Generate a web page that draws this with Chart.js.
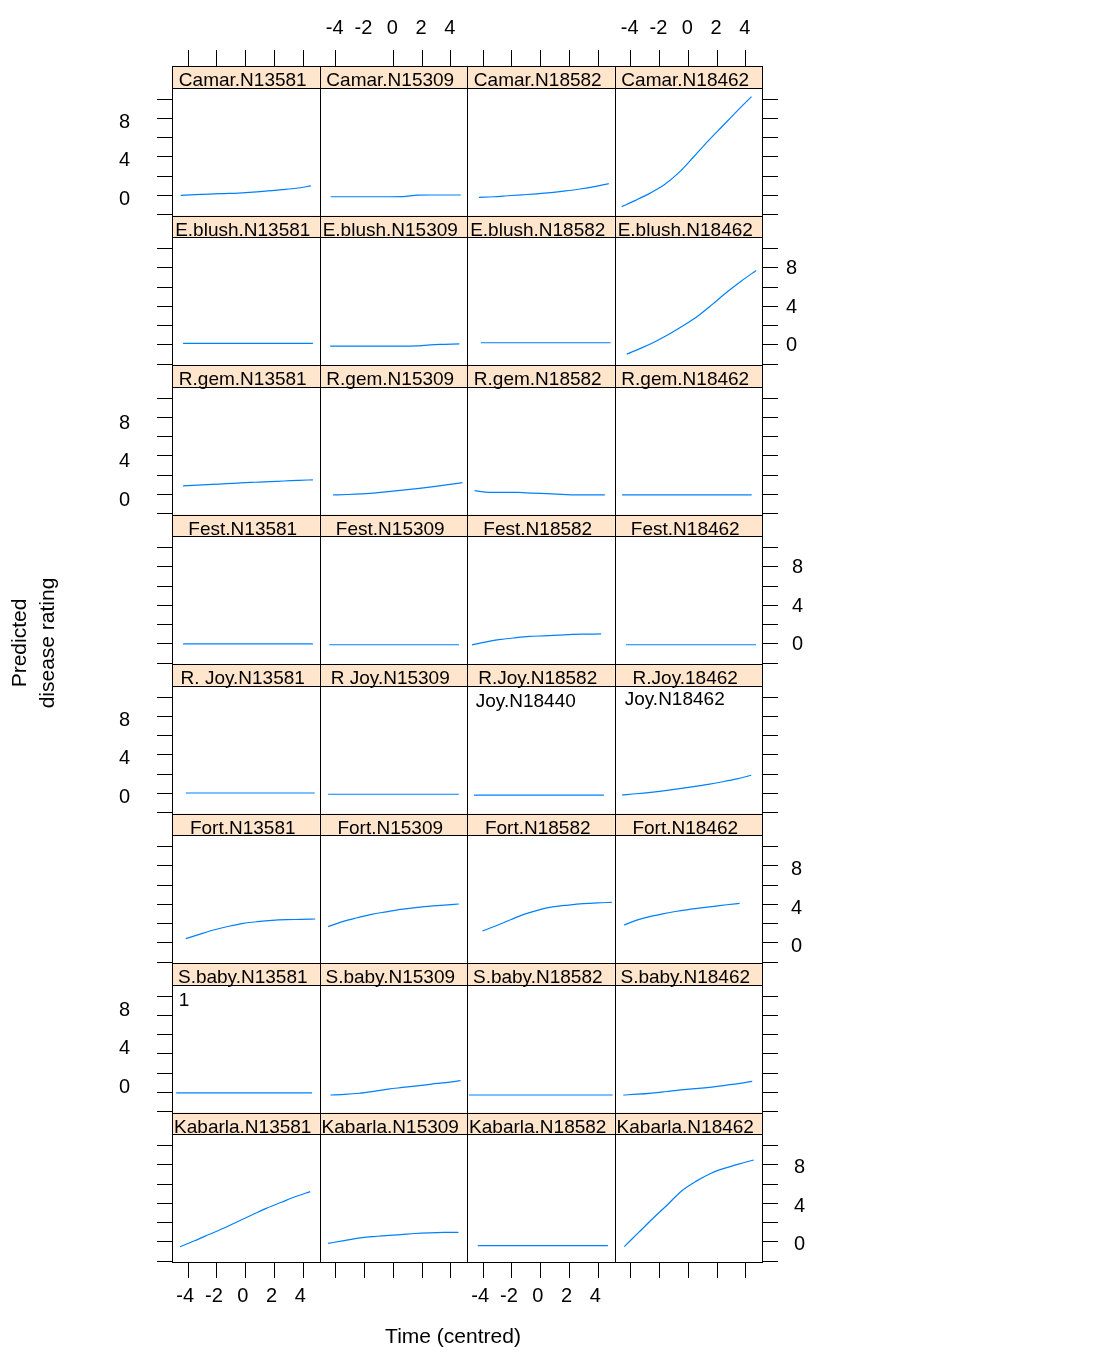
<!DOCTYPE html>
<html>
<head>
<meta charset="utf-8">
<script src="https://cdn.jsdelivr.net/npm/chart.js@4.4.1/dist/chart.umd.min.js"></script>
<style>
  html, body { margin: 0; padding: 0; background: #fff; }
  #wrap { width: 1120px; height: 1347px; }
</style>
</head>
<body>
<div id="wrap"><canvas id="chart" width="1120" height="1347"></canvas></div>
<script>
// strip labels, one row per cultivar, one column per isolate (as printed)
const STRIPS = [
  ['Camar.N13581', 'Camar.N15309', 'Camar.N18582', 'Camar.N18462'],
  ['E.blush.N13581', 'E.blush.N15309', 'E.blush.N18582', 'E.blush.N18462'],
  ['R.gem.N13581', 'R.gem.N15309', 'R.gem.N18582', 'R.gem.N18462'],
  ['Fest.N13581', 'Fest.N15309', 'Fest.N18582', 'Fest.N18462'],
  ['R. Joy.N13581', 'R Joy.N15309', 'R.Joy.N18582', 'R.Joy.18462'],
  ['Fort.N13581', 'Fort.N15309', 'Fort.N18582', 'Fort.N18462'],
  ['S.baby.N13581', 'S.baby.N15309', 'S.baby.N18582', 'S.baby.N18462'],
  ['Kabarla.N13581', 'Kabarla.N15309', 'Kabarla.N18582', 'Kabarla.N18462']
];

// first and last centred time of each curve
const TIME_SPANS = [
  [[-4.52, 4.53], [-4.35, 4.7], [-4.3, 4.73], [-4.63, 4.4]],
  [[-4.36, 4.67], [-4.39, 4.6], [-4.17, 4.86], [-4.28, 4.72]],
  [[-4.36, 4.67], [-4.18, 4.81], [-4.6, 4.46], [-4.6, 4.41]],
  [[-4.36, 4.67], [-4.45, 4.57], [-4.78, 4.2], [-4.33, 4.72]],
  [[-4.17, 4.8], [-4.53, 4.56], [-4.65, 4.39], [-4.6, 4.38]],
  [[-4.17, 4.83], [-4.53, 4.56], [-4.06, 4.94], [-4.47, 3.57]],
  [[-4.84, 4.61], [-4.37, 4.68], [-5.0, 5.0], [-4.52, 4.45]],
  [[-4.57, 4.48], [-4.53, 4.53], [-4.38, 4.67], [-4.45, 4.56]]
];

// predicted disease rating, 10 evenly spaced times per curve
const CAMAR = [
  [0.0, 0.06, 0.13, 0.18, 0.23, 0.32, 0.45, 0.58, 0.73, 0.97],
  [-0.15, -0.15, -0.15, -0.15, -0.15, -0.14, 0.02, 0.03, 0.03, 0.03],
  [-0.22, -0.15, -0.05, 0.05, 0.15, 0.28, 0.45, 0.65, 0.9, 1.22],
  [-1.18, -0.5, 0.25, 1.15, 2.4, 4.0, 5.65, 7.2, 8.75, 10.25]
];
const E_BLUSH = [
  [0.14, 0.14, 0.14, 0.14, 0.14, 0.14, 0.14, 0.14, 0.14, 0.14],
  [-0.14, -0.14, -0.14, -0.14, -0.14, -0.14, -0.12, 0.0, 0.05, 0.1],
  [0.21, 0.21, 0.21, 0.21, 0.21, 0.21, 0.21, 0.21, 0.21, 0.21],
  [-0.97, -0.35, 0.35, 1.15, 2.05, 3.05, 4.25, 5.5, 6.65, 7.72]
];
const R_GEM = [
  [0.87, 0.95, 1.03, 1.1, 1.18, 1.25, 1.32, 1.38, 1.45, 1.5],
  [-0.07, -0.02, 0.05, 0.15, 0.3, 0.45, 0.62, 0.8, 1.0, 1.21],
  [0.38, 0.2, 0.2, 0.2, 0.12, 0.07, 0.0, -0.07, -0.07, -0.07],
  [-0.07, -0.07, -0.07, -0.07, -0.07, -0.07, -0.07, -0.07, -0.07, -0.07]
];
const FEST = [
  [0.0, 0.0, 0.0, 0.0, 0.0, 0.0, 0.0, 0.0, 0.0, 0.0],
  [-0.1, -0.1, -0.1, -0.1, -0.1, -0.1, -0.1, -0.1, -0.1, -0.1],
  [-0.12, 0.2, 0.45, 0.62, 0.76, 0.83, 0.9, 0.98, 1.0, 1.02],
  [-0.1, -0.1, -0.1, -0.1, -0.1, -0.1, -0.1, -0.1, -0.1, -0.1]
];
const R_JOY = [
  [0.03, 0.03, 0.03, 0.03, 0.03, 0.03, 0.03, 0.03, 0.03, 0.03],
  [-0.1, -0.1, -0.1, -0.1, -0.1, -0.1, -0.1, -0.1, -0.1, -0.1],
  [-0.2, -0.2, -0.2, -0.2, -0.2, -0.2, -0.2, -0.2, -0.2, -0.2],
  [-0.17, -0.05, 0.1, 0.28, 0.48, 0.7, 0.93, 1.2, 1.5, 1.87]
];
const FORT = [
  [0.43, 0.9, 1.35, 1.72, 2.02, 2.2, 2.33, 2.4, 2.43, 2.47],
  [1.68, 2.2, 2.6, 2.96, 3.22, 3.47, 3.66, 3.8, 3.92, 4.03],
  [1.22, 1.8, 2.42, 3.0, 3.45, 3.75, 3.92, 4.06, 4.15, 4.2],
  [1.85, 2.35, 2.72, 3.0, 3.25, 3.45, 3.62, 3.78, 3.95, 4.1]
];
const S_BABY = [
  [-0.07, -0.07, -0.07, -0.07, -0.07, -0.07, -0.07, -0.07, -0.07, -0.07],
  [-0.28, -0.22, -0.1, 0.1, 0.33, 0.5, 0.67, 0.85, 1.0, 1.21],
  [-0.28, -0.28, -0.28, -0.28, -0.28, -0.28, -0.28, -0.28, -0.28, -0.28],
  [-0.28, -0.2, -0.08, 0.08, 0.25, 0.38, 0.52, 0.7, 0.9, 1.14]
];
const KABARLA = [
  [-0.51, 0.1, 0.75, 1.4, 2.1, 2.8, 3.5, 4.1, 4.7, 5.21],
  [-0.16, 0.1, 0.35, 0.53, 0.65, 0.74, 0.86, 0.93, 0.97, 0.98],
  [-0.4, -0.4, -0.4, -0.4, -0.4, -0.4, -0.4, -0.4, -0.4, -0.4],
  [-0.5, 0.97, 2.44, 3.85, 5.3, 6.3, 7.1, 7.65, 8.1, 8.5]
];
const ROWS = [CAMAR, E_BLUSH, R_GEM, FEST, R_JOY, FORT, S_BABY, KABARLA];

const X_TICKS = [-4, -2, 0, 2, 4];
const Y_TICKS = [-2, 0, 2, 4, 6, 8, 10];
const Y_LABELLED = [0, 4, 8];

// stray text inside panels
const NOTES = [
  { row: 4, col: 2, x: -4.52, y: 9.5, text: 'Joy.N18440' },
  { row: 4, col: 3, x: -4.42, y: 9.7, text: 'Joy.N18462' },
  { row: 6, col: 0, x: -4.66, y: 9.5, text: '1' }
];

const FONT = "'Liberation Sans', Arial, sans-serif";
const LINE = '#0080ff';
const STRIP_FILL = '#ffe5cc';
const X_MIN = -5.13, X_MAX = 5.13;
const Y_MIN = -2.1, Y_MAX = 13.43, PANEL_TOP = 11.15;

Chart.defaults.font.family = FONT;

function xScale(c, side, labelled) {
  return {
    type: 'linear', axis: 'x', position: side,
    stack: 'cols', stackWeight: 1,
    weight: side === 'top' ? 10 - c : c,
    min: X_MIN, max: X_MAX,
    afterBuildTicks: s => { s.ticks = X_TICKS.map(v => ({ value: v })); },
    afterFit: s => { s.height = side === 'top' ? 66 : 85; },
    border: { display: false },
    grid: {
      drawOnChartArea: false, tickLength: 16, lineWidth: 1,
      // the -2 tick above the second column is missing in the original
      color: ctx => (side === 'top' && c === 1 && ctx.tick && ctx.tick.value === -2) ? 'rgba(0,0,0,0)' : '#000'
    },
    ticks: {
      autoSkip: false, maxRotation: 0, color: '#000',
      font: { size: 20 },
      padding: side === 'top' ? 10 : 6,
      labelOffset: side === 'top' ? -1 : -3,
      callback: v => labelled ? String(v) : ''
    }
  };
}

function yScale(r, side, labelled, pad, shift) {
  return {
    type: 'linear', axis: 'y', position: side,
    stack: 'rows', stackWeight: 1,
    weight: side === 'left' ? 20 - r : r,
    min: Y_MIN, max: Y_MAX,
    afterBuildTicks: s => { s.ticks = Y_TICKS.map(v => ({ value: v })); },
    afterFit: s => { s.width = side === 'left' ? 172 : 358; },
    border: { display: false },
    grid: { drawOnChartArea: false, tickLength: side === 'left' ? 15 : 16, lineWidth: 1, color: '#000' },
    ticks: {
      autoSkip: false, color: '#000',
      font: { size: 20 },
      padding: pad, labelOffset: shift,
      callback: v => (labelled && Y_LABELLED.includes(v)) ? String(v) : ''
    }
  };
}

const scales = {};
for (let c = 0; c < 4; c++) {
  scales['x' + c] = xScale(c, 'bottom', c % 2 === 0);
  scales['xt' + c] = xScale(c, 'top', c % 2 === 1);
}
const leftShift = [4, 0, 6, 0, 4, 0, -5, 0];
const rightPad = [0, 8, 0, 14, 0, 13, 0, 16];
const rightShift = [0, 1, 0, 1, 0, 4, 0, 3];
for (let r = 0; r < 8; r++) {
  scales['y' + r] = yScale(r, 'left', r % 2 === 0, 27, leftShift[r]);
  scales['yr' + r] = yScale(r, 'right', r % 2 === 1, rightPad[r], rightShift[r]);
}

const datasets = [];
ROWS.forEach((row, r) => {
  row.forEach((vals, c) => {
    const [t0, t1] = TIME_SPANS[r][c];
    datasets.push({
      label: STRIPS[r][c],
      data: vals.map((v, i) => ({ x: t0 + (t1 - t0) * i / (vals.length - 1), y: v })),
      xAxisID: 'x' + c,
      yAxisID: 'y' + r,
      borderColor: LINE,
      borderWidth: 1.2,
      pointRadius: 0,
      cubicInterpolationMode: 'monotone',
      fill: false
    });
  });
});

const crisp = v => Math.round(v) + 0.5;

const lattice = {
  id: 'lattice',
  beforeDatasetsDraw(chart) {
    const ctx = chart.ctx;
    ctx.save();
    for (let r = 0; r < 8; r++) {
      const ys = chart.scales['y' + r];
      const top = ys.top;
      const stripBottom = ys.getPixelForValue(PANEL_TOP);
      for (let c = 0; c < 4; c++) {
        const xs = chart.scales['x' + c];
        ctx.fillStyle = STRIP_FILL;
        ctx.fillRect(xs.left, top, xs.right - xs.left, stripBottom - top);
        ctx.fillStyle = '#000';
        ctx.font = '19px ' + FONT;
        ctx.textAlign = 'center';
        ctx.textBaseline = 'alphabetic';
        ctx.fillText(STRIPS[r][c], (xs.left + xs.right) / 2 - 3, top + 20);
      }
    }
    ctx.font = '19px ' + FONT;
    ctx.textAlign = 'left';
    ctx.textBaseline = 'middle';
    ctx.fillStyle = '#000';
    NOTES.forEach(n => {
      const xs = chart.scales['x' + n.col], ys = chart.scales['y' + n.row];
      ctx.fillText(n.text, xs.getPixelForValue(n.x), ys.getPixelForValue(n.y));
    });
    ctx.restore();
  },
  afterDatasetsDraw(chart) {
    const ctx = chart.ctx;
    ctx.save();
    ctx.strokeStyle = '#000';
    ctx.lineWidth = 1;
    for (let r = 0; r < 8; r++) {
      const ys = chart.scales['y' + r];
      const top = crisp(ys.top), bottom = crisp(ys.bottom);
      const stripBottom = crisp(ys.getPixelForValue(PANEL_TOP));
      for (let c = 0; c < 4; c++) {
        const xs = chart.scales['x' + c];
        const left = crisp(xs.left), right = crisp(xs.right);
        ctx.strokeRect(left, top, right - left, bottom - top);
        ctx.beginPath();
        ctx.moveTo(left, stripBottom);
        ctx.lineTo(right, stripBottom);
        ctx.stroke();
      }
    }
    // axis titles
    ctx.fillStyle = '#000';
    ctx.font = '21px ' + FONT;
    ctx.textAlign = 'center';
    ctx.textBaseline = 'middle';
    ctx.fillText('Time (centred)', 453, 1337);
    ctx.translate(34, 643);
    ctx.rotate(-Math.PI / 2);
    ctx.fillText('Predicted', 0, -14);
    ctx.fillText('disease rating', 0, 14);
    ctx.restore();
  }
};

new Chart(document.getElementById('chart'), {
  type: 'line',
  data: { datasets },
  options: {
    responsive: false,
    animation: false,
    devicePixelRatio: 1,
    layout: { padding: 0 },
    events: [],
    plugins: { legend: { display: false }, tooltip: { enabled: false } },
    scales
  },
  plugins: [lattice]
});
</script>
</body>
</html>
